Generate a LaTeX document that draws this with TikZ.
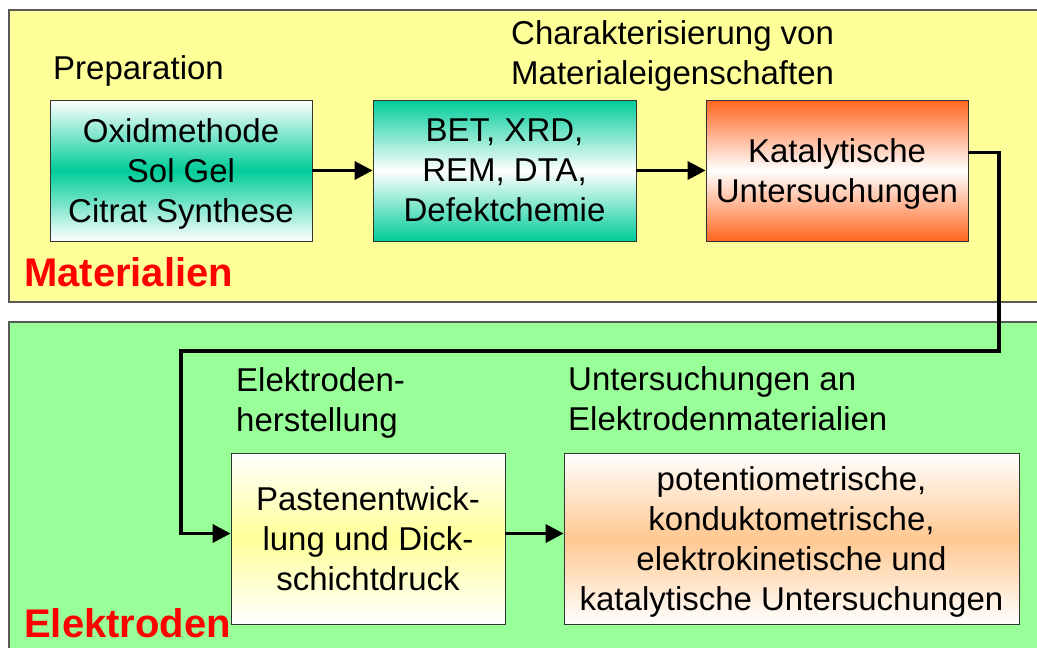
\documentclass[tikz,border=0pt]{standalone}
\usepackage{fontspec}
\setmainfont{Liberation Sans}
\usetikzlibrary{arrows.meta,positioning}
\definecolor{panelyellow}{RGB}{255,255,153}
\definecolor{panelgreen}{RGB}{153,255,153}
\definecolor{boxgreen}{RGB}{0,204,153}
\definecolor{boxred}{RGB}{255,102,32}
\definecolor{boxyellow}{RGB}{255,255,153}
\definecolor{boxorange}{RGB}{255,200,145}
\begin{document}
\begin{tikzpicture}[x=1pt, y=-1pt,
    every node/.style={font=\fontsize{33}{40}\selectfont, inner sep=0},
    box/.style={draw=black!80, line width=0.8pt, align=center, text depth=0pt},
    arr/.style={line width=3.5pt, -{Triangle[length=18pt,width=18pt]}},
    tag/.style={font=\fontsize{40}{48}\selectfont\bfseries, text=red, anchor=base west},
    lbl/.style={align=left, anchor=base west}]

  \clip (0,0) rectangle (1037,648);
  \fill[white] (0,0) rectangle (1037,648);

  % Panels
  \draw[fill=panelyellow, draw=black!65, line width=1.2pt] (9,10) rectangle (1050,302);
  \draw[fill=panelgreen, draw=black!65, line width=1.2pt] (9,322) rectangle (1050,660);

  % Boxes
  \node[box, minimum width=262pt, minimum height=141pt,
    top color=white, bottom color=white, middle color=boxgreen] (ox) at (181,170.5)
    {Oxidmethode\\Sol Gel\\Citrat Synthese};
  \node[box, minimum width=263pt, minimum height=141pt,
    top color=boxgreen, bottom color=boxgreen, middle color=white] (bet) at (504.5,170.5)
    {BET, XRD,\\REM, DTA,\\Defektchemie};
  \node[box, minimum width=262pt, minimum height=141pt,
    top color=boxred, bottom color=boxred, middle color=white] (kat) at (837,170.5)
    {Katalytische\\Untersuchungen};
  \node[box, minimum width=274pt, minimum height=171pt,
    top color=white, bottom color=white, middle color=boxyellow] (paste) at (368,538.5)
    {Pastenentwick-\\lung und Dick-\\schichtdruck};
  \node[box, minimum width=455pt, minimum height=171pt,
    top color=white, bottom color=white, middle color=boxorange] (unt) at (791.5,538.5)
    {potentiometrische,\\konduktometrische,\\elektrokinetische und\\katalytische Untersuchungen};

  % Arrows
  \foreach \a/\b in {ox/bet, bet/kat}
    \draw[arr] (\a) -- (\b);
  \coordinate (turnR) at (999,351);
  \coordinate (turnL) at (181,351);
  \draw[arr] ([yshift=18pt]kat.east) -| (turnR) -- (turnL) |- ([yshift=5pt]paste.west);
  \draw[arr] ([yshift=5pt]paste.east) -- ([yshift=5pt]unt.west);

  % Labels
  \node[lbl] (prep) at (53,79) {Preparation};
  \node[lbl] (char) at (511,84) {Charakterisierung von\\Materialeigenschaften};
  \node[lbl] (herst) at (236,431) {Elektroden-\\herstellung};
  \node[lbl] (untlbl) at (568,430) {Untersuchungen an\\Elektrodenmaterialien};
  \node[tag] (mat) at (24,286) {Materialien};
  \node[tag] (elek) at (24,637) {Elektroden};
\end{tikzpicture}
\end{document}
